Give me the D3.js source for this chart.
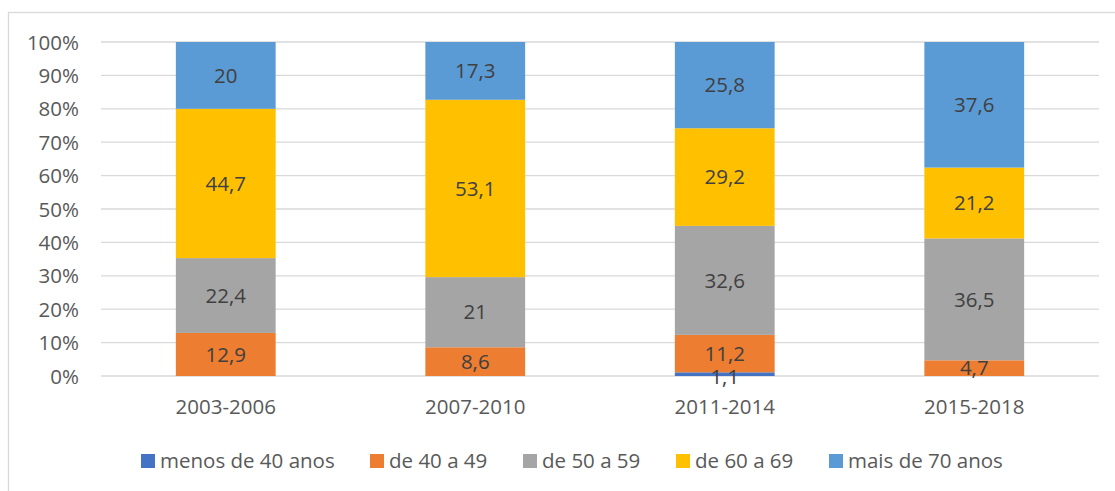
<!DOCTYPE html>
<html>
<head>
<meta charset="utf-8">
<script src="https://cdn.jsdelivr.net/npm/d3@7"></script>
<style>
  body { margin: 0; background: #fff; }
  svg text { font-family: "Open Sans", sans-serif; }
</style>
</head>
<body>
<svg id="chart" width="1115" height="491"></svg>
<script>
// periods on the x axis
const periods = ['2003-2006', '2007-2010', '2011-2014', '2015-2018'];

// age groups, bottom to top of each column
const groups = ['menos de 40 anos', 'de 40 a 49', 'de 50 a 59', 'de 60 a 69', 'mais de 70 anos'];
const groupColors = ['#4472C4', '#ED7D31', '#A5A5A5', '#FFC000', '#5B9BD5'];

// percent per group, one value per period (null = no label, no bar)
const menos40 = [null, null, 1.1, null];
const de40a49 = [12.9, 8.6, 11.2, 4.7];
const de50a59 = [22.4, 21, 32.6, 36.5];
const de60a69 = [44.7, 53.1, 29.2, 21.2];
const mais70 = [20, 17.3, 25.8, 37.6];

const yTicks = [0, 10, 20, 30, 40, 50, 60, 70, 80, 90, 100];

const series = [menos40, de40a49, de50a59, de60a69, mais70];

const rows = periods.map((p, i) => {
    const row = { period: p };
    groups.forEach((g, j) => { row[g] = series[j][i] || 0; });
    return row;
});

// normalise each column to 100%
const stacked = d3.stack()
    .keys(groups)
    .offset(d3.stackOffsetExpand)(rows);

const svg = d3.select('#chart');

const margin = { left: 101, right: 16, top: 42, bottom: 115 };
const width = 1115, height = 491;
const fontSize = '20.5px';

// chart frame
svg.append('rect')
    .attr('x', 8.5)
    .attr('y', 12.5)
    .attr('width', 1120)
    .attr('height', 500)
    .attr('fill', 'none')
    .attr('stroke', '#d9d9d9')
    .attr('stroke-width', 1.3)

const x = d3.scaleBand()
    .domain(periods)
    .range([margin.left, width - margin.right])
    .paddingInner(0.6)
    .paddingOuter(0.3)

const y = d3.scaleLinear()
    .domain([0, 1])
    .range([height - margin.bottom, margin.top])

// gridlines
svg.append('g')
    .selectAll('line')
    .data(yTicks)
    .join('line')
    .attr('x1', margin.left)
    .attr('x2', width - margin.right)
    .attr('y1', d => y(d / 100))
    .attr('y2', d => y(d / 100))
    .attr('stroke', '#d9d9d9')
    .attr('stroke-width', 1.3)

// y axis labels
const yAxis = svg.append('g')
    .attr('transform', `translate(${margin.left - 22},0)`)
    .call(d3.axisLeft(y).tickValues(yTicks.map(d => d / 100)).tickFormat(d3.format('.0%')).tickSize(0))

yAxis.select('.domain').remove();
yAxis.selectAll('text')
    .attr('x', 0)
    .attr('dy', '0.35em')
    .style('font-size', fontSize)
    .style('fill', '#595959')

// x axis labels
const xAxis = svg.append('g')
    .attr('transform', `translate(0,${y(0) + 20})`)
    .call(d3.axisBottom(x).tickSize(0))

xAxis.select('.domain').remove();
xAxis.selectAll('text')
    .attr('dy', '0.71em')
    .style('font-size', fontSize)
    .style('fill', '#595959')

// stacked columns
const layers = svg.append('g')
    .selectAll('g')
    .data(stacked)
    .join('g')
    .attr('fill', (d, i) => groupColors[i])

layers.selectAll('rect')
    .data(d => d)
    .join('rect')
    .attr('x', d => x(d.data.period))
    .attr('width', x.bandwidth())
    .attr('y', d => y(d[1]))
    .attr('height', d => y(d[0]) - y(d[1]))

// data labels
const fmt = v => String(v).replace('.', ',');

stacked.forEach((layer, j) => {
    svg.append('g')
        .selectAll('text')
        .data(layer.filter((d, i) => series[j][i] !== null))
        .join('text')
        .attr('x', d => x(d.data.period) + x.bandwidth() / 2)
        // the thin bottom segment's label sits a little lower, as in the original
        .attr('y', d => (y(d[0]) + y(d[1])) / 2 + (j === 0 ? 3 : 0))
        .attr('dy', '0.35em')
        .attr('text-anchor', 'middle')
        .style('font-size', fontSize)
        .style('fill', '#404040')
        .text(d => fmt(series[j][periods.indexOf(d.data.period)]))
})

// legend
const legendX = [141, 370, 523, 676, 829];

const legend = svg.append('g')
    .selectAll('g')
    .data(groups)
    .join('g')
    .attr('transform', (d, i) => `translate(${legendX[i]},454)`)

legend.append('rect')
    .attr('width', 14)
    .attr('height', 14)
    .attr('fill', (d, i) => groupColors[i])

legend.append('text')
    .attr('x', 19)
    .attr('y', 7)
    .attr('dy', '0.35em')
    .style('font-size', fontSize)
    .style('fill', '#595959')
    .text(d => d)
</script>
</body>
</html>
